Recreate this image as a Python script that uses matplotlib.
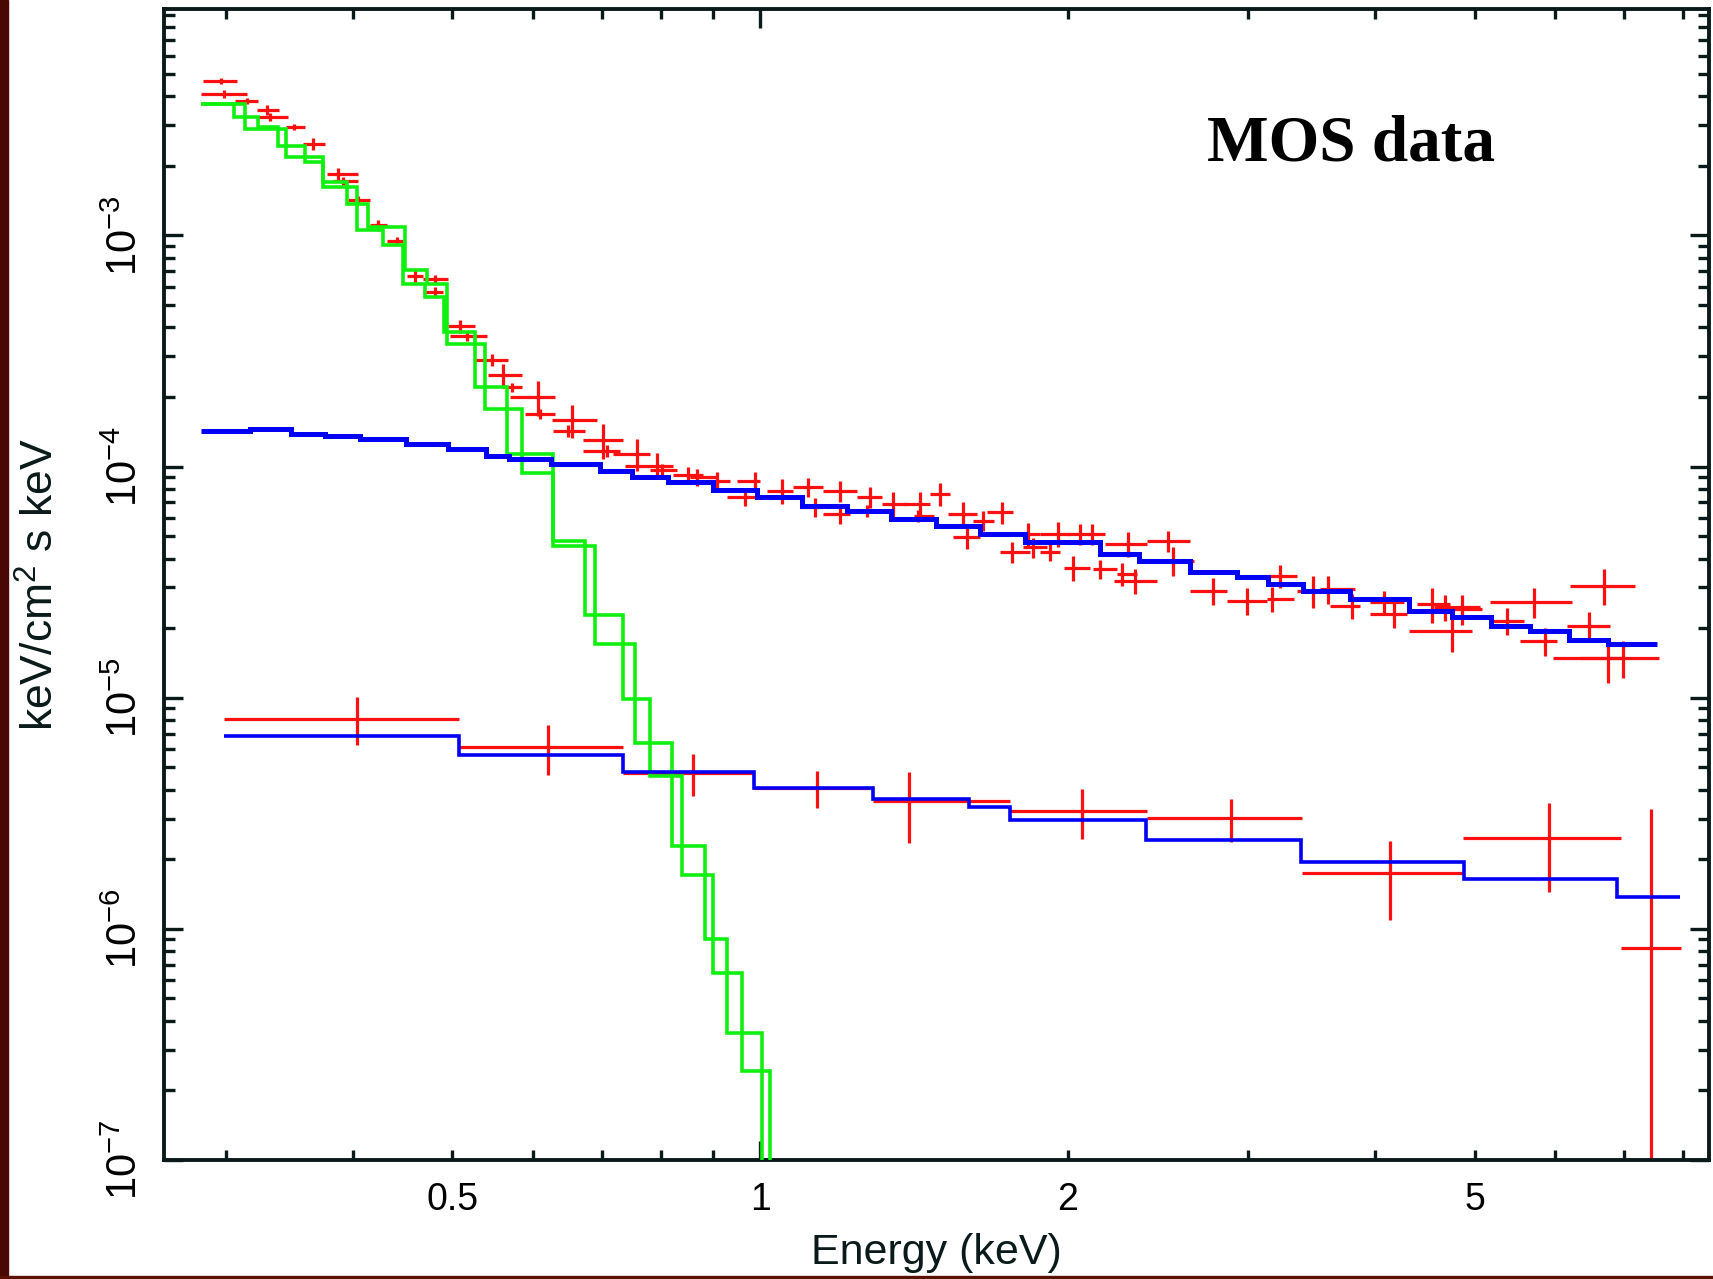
import numpy as np
import matplotlib
matplotlib.use("Agg")
import matplotlib.pyplot as plt
from matplotlib.ticker import FixedLocator, FixedFormatter, FuncFormatter, LogLocator, NullFormatter
from matplotlib.patches import Rectangle

plt.rcParams['font.family'] = ['Liberation Sans', 'DejaVu Sans']
plt.rcParams['mathtext.fontset'] = 'custom'
plt.rcParams['mathtext.rm'] = 'Liberation Sans'
plt.rcParams['mathtext.it'] = 'Liberation Sans:italic'

# upper spectrum (source) : bin centre, bin edges, flux, error
e_mid = [0.2967, 0.2991, 0.3146, 0.3296, 0.3316, 0.3496, 0.3656, 0.3867, 0.3911, 0.4046,
         0.4232, 0.4411, 0.4596, 0.4808, 0.4808,
         0.5086, 0.5164, 0.5464, 0.5608, 0.5715, 0.6066, 0.6089, 0.6542, 0.6492, 0.7026,
         0.7079, 0.7575, 0.7924, 0.8014, 0.8508, 0.8671, 0.9071, 0.9667, 0.9888,
         1.050, 1.115, 1.132, 1.198, 1.198, 1.281, 1.272, 1.350, 1.434, 1.500, 1.428, 1.581,
         1.593, 1.654, 1.724, 1.763, 1.830, 1.851, 1.958, 1.921, 2.056, 2.025, 2.112,
         2.151, 2.293, 2.509, 2.327, 2.259, 2.537, 2.777, 2.994, 3.227, 3.168, 3.478, 3.598,
         3.793, 4.073, 4.166, 4.542,
         4.752, 4.681, 4.860, 5.711, 5.379, 5.863, 6.687, 6.465, 6.761, 6.993]
e_lo = [0.2850, 0.2838, 0.3064, 0.3218, 0.3230, 0.3441, 0.3574, 0.3767, 0.3824, 0.3956,
        0.4153, 0.4312, 0.4511, 0.4683, 0.4683,
        0.4954, 0.4973, 0.5262, 0.5421, 0.5589, 0.5693, 0.5889, 0.6255, 0.6278, 0.6717,
        0.6717, 0.7186, 0.7378, 0.7806, 0.8226, 0.8541, 0.8867, 0.9277, 0.9489,
        1.015, 1.078, 1.094, 1.153, 1.153, 1.243, 1.234, 1.315, 1.381, 1.466, 1.413, 1.528,
        1.546, 1.617, 1.667, 1.718, 1.783, 1.810, 1.879, 1.879, 1.996, 1.981, 2.088,
        2.119, 2.176, 2.390, 2.217, 2.234, 2.408, 2.634, 2.861, 3.108, 3.131, 3.352, 3.531,
        3.612, 3.953, 3.953, 4.392,
        4.310, 4.559, 4.699, 5.179, 5.179, 5.541, 6.202, 6.156, 5.973, 6.342]
e_hi = [0.3076, 0.3146, 0.3230, 0.3386, 0.3456, 0.3588, 0.3753, 0.4046, 0.4046, 0.4153,
        0.4312, 0.4477, 0.4683, 0.4954, 0.4898,
        0.5262, 0.5402, 0.5672, 0.5844, 0.5844, 0.6302, 0.6302, 0.6924, 0.6743, 0.7349,
        0.7295, 0.7806, 0.8226, 0.8289, 0.8801, 0.9071, 0.9347, 1.0, 1.0,
        1.078, 1.153, 1.153, 1.243, 1.225, 1.315, 1.310, 1.391, 1.466, 1.534, 1.478, 1.629,
        1.642, 1.692, 1.769, 1.837, 1.879, 1.908, 2.011, 1.966, 2.103, 2.103, 2.176,
        2.234, 2.390, 2.634, 2.444, 2.337, 2.655, 2.861, 3.131, 3.352, 3.326, 3.612, 3.821,
        3.865, 4.262, 4.294, 4.732,
        4.970, 5.064, 5.084, 6.225, 5.583, 6.019, 7.181, 6.788, 7.021, 7.568]
flux = [4.66e-3, 4.10e-3, 3.81e-3, 3.50e-3, 3.25e-3, 2.94e-3, 2.49e-3, 1.85e-3, 1.72e-3, 1.43e-3,
        1.105e-3, 9.5e-4, 6.65e-4, 6.50e-4, 5.68e-4,
        4.04e-4, 3.69e-4, 2.90e-4, 2.50e-4, 2.20e-4, 2.00e-4, 1.69e-4, 1.59e-4, 1.43e-4, 1.305e-4,
        1.173e-4, 1.135e-4, 1.01e-4, 9.67e-5, 9.23e-5, 8.99e-5, 8.70e-5, 7.42e-5, 8.70e-5,
        7.87e-5, 8.13e-5, 6.66e-5, 7.87e-5, 6.24e-5, 7.37e-5, 6.45e-5, 6.89e-5, 6.89e-5, 7.62e-5,
        6.14e-5, 6.24e-5, 4.94e-5, 5.84e-5, 6.34e-5, 4.26e-5, 5.11e-5, 4.47e-5, 5.11e-5, 4.26e-5,
        5.11e-5, 3.66e-5, 5.11e-5,
        3.61e-5, 4.63e-5, 4.78e-5, 3.21e-5, 3.43e-5, 3.92e-5, 2.90e-5, 2.63e-5, 3.37e-5, 2.67e-5,
        2.90e-5, 2.95e-5, 2.50e-5, 2.59e-5, 2.30e-5, 2.54e-5,
        1.95e-5, 2.46e-5, 2.42e-5, 2.59e-5, 2.15e-5, 1.76e-5, 3.05e-5, 2.05e-5, 1.485e-5, 1.485e-5]
flux_err = [1.4e-4, 1.65e-4, 1.15e-4, 1.8e-4, 1.3e-4, 0.9e-4, 1.5e-4, 1.1e-4, 0.7e-4, 0.58e-4,
            0.56e-4, 0.39e-4, 0.41e-4, 0.26e-4, 0.29e-4,
            2.5e-5, 1.9e-5, 1.8e-5, 2.8e-5, 0.9e-5, 3.5e-5, 0.85e-5, 2.6e-5, 0.87e-5, 2.3e-5,
            0.72e-5, 1.8e-5, 1.3e-5, 0.59e-5, 0.76e-5, 0.74e-5, 0.81e-5, 0.69e-5, 0.81e-5,
            0.97e-5, 0.76e-5, 0.62e-5, 0.81e-5, 0.58e-5, 0.76e-5, 0.39e-5, 0.85e-5, 0.85e-5, 0.86e-5,
            0.37e-5, 0.77e-5, 0.56e-5, 0.6e-5, 0.72e-5, 0.44e-5, 0.58e-5, 0.46e-5, 0.63e-5, 0.35e-5,
            0.52e-5, 0.45e-5, 0.52e-5,
            0.33e-5, 0.57e-5, 0.49e-5, 0.4e-5, 0.39e-5, 0.57e-5, 0.39e-5, 0.36e-5, 0.38e-5, 0.33e-5,
            0.46e-5, 0.4e-5, 0.31e-5, 0.32e-5, 0.29e-5, 0.43e-5,
            0.37e-5, 0.31e-5, 0.36e-5, 0.38e-5, 0.29e-5, 0.24e-5, 0.54e-5, 0.3e-5, 0.33e-5, 0.27e-5]

# lower spectrum (background)
bkg_mid = [0.4034, 0.6203, 0.8603, 1.137, 1.399, 2.066, 2.890, 4.135, 5.916, 7.444]
bkg_lo = [0.2989, 0.5075, 0.7345, 0.9865, 1.290, 1.757, 2.391, 3.391, 4.874, 6.958]
bkg_hi = [0.5075, 0.7345, 0.9865, 1.290, 1.757, 2.391, 3.391, 4.874, 6.958, 7.965]
bkg_flux = [8.13e-6, 6.14e-6, 4.73e-6, 4.08e-6, 3.56e-6, 3.23e-6, 3.01e-6, 1.74e-6, 2.47e-6, 8.30e-7]
bkg_err = [1.9e-6, 1.5e-6, 0.99e-6, 0.75e-6, 1.2e-6, 0.79e-6, 0.63e-6, 0.65e-6, 1.03e-6, 2.47e-6]

# thermal model component (two detectors)
therm1_edges = [0.2838, 0.3059, 0.3230, 0.3378, 0.3588, 0.3738, 0.3940, 0.4137, 0.4494, 0.4718,
                0.4939, 0.5381, 0.5844, 0.6278, 0.6896, 0.7546, 0.8196, 0.8836, 0.9277, 1.004, 1.10]
therm1_vals = [3.72e-3, 3.27e-3, 2.94e-3, 2.45e-3, 2.08e-3, 1.70e-3, 1.37e-3, 1.086e-3, 7.06e-4,
               6.18e-4, 3.40e-4, 1.78e-4, 9.35e-5, 4.55e-5, 1.71e-5, 6.37e-6, 2.28e-6, 9.05e-7,
               3.55e-7, 1e-9]
therm2_edges = [0.2838, 0.3133, 0.3441, 0.3738, 0.4031, 0.4279, 0.4477, 0.4700, 0.4906, 0.5262,
                0.5651, 0.6278, 0.6743, 0.7349, 0.7806, 0.8384, 0.9001, 0.9596, 1.023, 1.10]
therm2_vals = [3.72e-3, 2.90e-3, 2.18e-3, 1.62e-3, 1.051e-3, 9.05e-4, 6.18e-4, 5.41e-4, 3.82e-4,
               2.20e-4, 1.135e-4, 4.79e-5, 2.28e-5, 9.91e-6, 4.57e-6, 1.71e-6, 6.44e-7, 2.42e-7, 1e-9]

# power-law model component
pl_edges = [0.2838, 0.317, 0.3477, 0.3753, 0.4061, 0.4504, 0.4951, 0.5393, 0.5679, 0.6243,
            0.6976, 0.7492, 0.8128, 0.8987, 0.9933, 1.099, 1.215, 1.343, 1.485, 1.643,
            1.816, 2.151, 2.349, 2.634, 2.929, 3.141, 3.399, 3.779, 4.315, 4.755,
            5.192, 5.668, 6.188, 6.757, 7.55]
pl_vals = [1.43e-4, 1.45e-4, 1.385e-4, 1.362e-4, 1.318e-4, 1.254e-4, 1.193e-4, 1.116e-4, 1.08e-4,
           1.027e-4, 9.61e-5, 8.99e-5, 8.55e-5, 7.93e-5, 7.36e-5, 6.78e-5, 6.45e-5, 5.94e-5,
           5.55e-5, 5.11e-5, 4.70e-5, 4.19e-5, 3.92e-5, 3.49e-5, 3.32e-5, 3.11e-5, 2.90e-5,
           2.68e-5, 2.38e-5, 2.23e-5, 2.05e-5, 1.95e-5, 1.77e-5, 1.71e-5]

# background model
bmod_edges = [0.2989, 0.5075, 0.7345, 0.9865, 1.290, 1.601, 1.757, 2.386, 3.384, 4.884, 6.896, 7.947]
bmod_vals = [6.85e-6, 5.67e-6, 4.78e-6, 4.09e-6, 3.63e-6, 3.36e-6, 2.95e-6, 2.43e-6, 1.95e-6,
             1.64e-6, 1.375e-6]

RED = '#ff1010'
GREEN = '#10f010'
BLUE = '#0000f5'
INK = '#0a1a1a'

fig = plt.figure(figsize=(17.13, 12.79), dpi=100)
ax = fig.add_axes([0.096, 0.093, 0.9017, 0.8996])
ax.set_xscale('log')
ax.set_yscale('log')

em = np.array(e_mid)
ax.errorbar(em, flux, xerr=[em - np.array(e_lo), np.array(e_hi) - em], yerr=flux_err,
            fmt='none', ecolor=RED, elinewidth=2.3, capsize=0, zorder=2)
bm = np.array(bkg_mid)
ax.errorbar(bm, bkg_flux, xerr=[bm - np.array(bkg_lo), np.array(bkg_hi) - bm], yerr=bkg_err,
            fmt='none', ecolor=RED, elinewidth=2.3, capsize=0, zorder=2)

ax.stairs(therm1_vals, therm1_edges, color=GREEN, lw=2.6, baseline=None, zorder=3)
ax.stairs(therm2_vals, therm2_edges, color=GREEN, lw=2.6, baseline=None, zorder=3)
ax.stairs(pl_vals, pl_edges, color=BLUE, lw=3.6, baseline=None, zorder=4)
ax.stairs(bmod_vals, bmod_edges, color=BLUE, lw=2.6, baseline=None, zorder=4)

ax.set_xlim(0.2614, 8.48)
ax.set_ylim(1e-7, 9.5e-3)

# x axis: long tick at 1, short ticks elsewhere, labels at 0.5 1 2 5
ax.xaxis.set_major_locator(FixedLocator([1.0]))
ax.xaxis.set_major_formatter(FixedFormatter(['1']))
ax.xaxis.set_minor_locator(FixedLocator([0.3, 0.4, 0.5, 0.6, 0.7, 0.8, 0.9, 2, 3, 4, 5, 6, 7, 8]))
ax.xaxis.set_minor_formatter(FuncFormatter(lambda v, p: {0.5: '0.5', 2: '2', 5: '5'}.get(round(v, 2), '')))

ax.yaxis.set_major_locator(LogLocator(base=10, numticks=20))
ax.yaxis.set_minor_locator(LogLocator(base=10, subs=np.arange(2, 10), numticks=20))
ax.yaxis.set_minor_formatter(NullFormatter())
ax.yaxis.set_major_formatter(FuncFormatter(lambda v, p: r'$\mathregular{10^{%d}}$' % round(np.log10(v))))

ax.tick_params(which='both', direction='in', top=True, right=True, width=2.4, color=INK)
ax.tick_params(axis='x', which='major', length=14, labelsize=27, pad=16)
ax.tick_params(axis='x', which='minor', length=7.5, labelsize=27, pad=16)
ax.tick_params(axis='y', which='major', length=14, labelsize=30, pad=13, labelrotation=90)
ax.tick_params(axis='y', which='minor', length=8)
for lab in ax.get_yticklabels():
    lab.set_verticalalignment('center')

for s in ax.spines.values():
    s.set_linewidth(2.8)
    s.set_color(INK)

ax.set_xlabel('Energy (keV)', fontsize=31, color=INK)
ax.xaxis.set_label_coords(0.5, -0.063)
ax.set_ylabel('keV/cm$^2$ s keV', fontsize=32, color=INK)
ax.yaxis.set_label_coords(-0.066, 0.5)

ax.text(0.675, 0.869, 'MOS data', transform=ax.transAxes, fontsize=47, fontweight='bold',
        family='Liberation Serif', ha='left', va='baseline')

# dark border strips of the original slide
fig.patches.append(Rectangle((0, 0), 8 / 1713, 1, transform=fig.transFigure, color='#4a0805', zorder=0))
fig.patches.append(Rectangle((0, 0), 1, 3 / 1279, transform=fig.transFigure, color='#5a1005', zorder=0))

fig.savefig('out.png', dpi=100)
